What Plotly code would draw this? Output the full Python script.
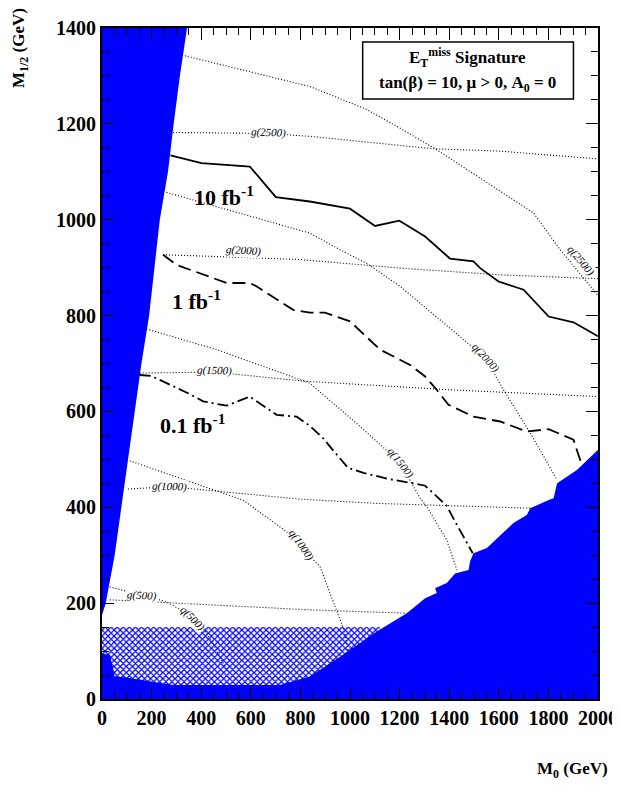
import plotly.graph_objects as go

# ---------------- data (M0, M1/2 in GeV) ----------------
# reach contours
m0_10fb = [276, 401, 596, 701, 838, 1000, 1101, 1199, 1303, 1357, 1403, 1498, 1525, 1599, 1700, 1801, 1901, 2000]
m12_10fb = [1134, 1118, 1111, 1047, 1038, 1023, 987, 998, 965, 941, 919, 913, 899, 871, 854, 798, 786, 757]

m0_1fb = [246, 300, 502, 596, 623, 771, 838, 899, 1000, 1121, 1242, 1303, 1350, 1397, 1498, 1606, 1713, 1801, 1901, 1915, 1935]
m12_1fb = [927, 906, 868, 868, 861, 812, 806, 806, 788, 729, 697, 673, 645, 614, 589, 579, 558, 563, 541, 520, 488]

m0_01fb = [152, 199, 347, 408, 502, 596, 704, 785, 838, 892, 933, 993, 1054, 1155, 1256, 1303, 1343, 1390, 1424, 1458, 1495]
m12_01fb = [676, 674, 638, 621, 612, 631, 593, 589, 570, 544, 518, 482, 472, 459, 450, 445, 426, 403, 370, 338, 304]

# excluded regions
left_m0 = [0, 0, 343, 314, 289, 266, 233, 213, 190, 159, 131, 105, 78, 51, 15, 0]
left_m12 = [175, 1400, 1400, 1300, 1200, 1100, 1000, 900, 800, 700, 600, 500, 400, 300, 200, 175]

bottom_m0 = [0, 0, 31, 44, 51, 98, 287, 717, 838, 960, 1108, 1134, 1229, 1303, 1350, 1343, 1390, 1424,
             1478, 1484, 1498, 1552, 1606, 1659, 1713, 1727, 1801, 1821, 1835, 1915, 2000, 2000, 0]
bottom_m12 = [0, 95, 92, 67, 47, 45, 29, 29, 47, 88, 141, 149, 179, 210, 221, 231, 242, 262,
              269, 287, 304, 315, 342, 367, 384, 398, 415, 419, 450, 478, 520, 0, 0]

hatch_m0 = [0, 0, 1120, 1120, 0]
hatch_m12 = [0, 150, 150, 0, 0]

# gluino iso-mass lines
g_lines = {
    "g(2500)": ([286, 673, 838, 1336, 1606, 1875, 2000], [1182, 1180, 1174, 1148, 1143, 1132, 1127]),
    "g(2000)": ([246, 798, 1202, 1606, 2000], [927, 917, 899, 885, 877]),
    "g(1500)": ([152, 452, 820, 1407, 2000], [680, 682, 663, 645, 631]),
    "g(1000)": ([105, 273, 798, 1114, 1739], [438, 443, 417, 408, 398]),
    "g(500)": ([31, 838, 1229], [207, 186, 179]),
}
# squark iso-mass lines
q_lines = {
    "q(2500)": ([334, 838, 1067, 1202, 1350, 1538, 1740, 1848, 1998], [1342, 1278, 1230, 1191, 1146, 1083, 1014, 937, 843]),
    "q(2000)": ([260, 838, 961, 1067, 1202, 1377, 1545, 1619, 1727, 1835], [1057, 972, 937, 909, 861, 784, 712, 645, 555, 457]),
    "q(1500)": ([179, 462, 838, 933, 1040, 1202, 1283, 1310, 1390, 1431], [772, 729, 659, 617, 569, 493, 419, 401, 332, 269]),
    "q(1000)": ([112, 529, 569, 744, 879, 973, 993], [497, 422, 415, 349, 276, 148, 102]),
    "q(500)": ([31, 161, 260, 367, 421, 448, 502], [234, 217, 203, 171, 137, 116, 61]),
}

# contour labels: text, M0, M1/2, angle
label_text = ["g(2500)", "g(2000)", "g(1500)", "g(1000)", "g(500)",
              "q(2500)", "q(2000)", "q(1500)", "q(1000)", "q(500)"]
label_m0 = [673, 572, 452, 273, 161, 1929, 1545, 1202, 806, 366]
label_m12 = [1181, 935, 685, 443, 217, 914, 712, 493, 321, 169]
label_angle = [2, 3, 2, 2, 3, 50, 48, 52, 55, 45]

lumi_text = ["10 fb<sup>-1</sup>", "1 fb<sup>-1</sup>", "0.1 fb<sup>-1</sup>"]
lumi_m0 = [491, 382, 363]
lumi_m12 = [1050, 833, 574]

x_ticks = list(range(0, 2001, 200))
y_ticks = list(range(0, 1401, 200))

# ---------------- figure ----------------
BLUE = "#0000ff"
SERIF = "Liberation Serif"
OFF = 8  # default page body margin
W, H = 620 - OFF, 785 - OFF
ML, MR, MT, MB = 102 - OFF, 22, 28 - OFF, 86
pw, ph = W - ML - MR, H - MT - MB


def px_to_paper(px, py):
    # page pixel -> paper coordinates
    return (px - OFF - ML) / pw, 1 - (py - OFF - MT) / ph


fig = go.Figure()

fig.add_trace(go.Scatter(x=hatch_m0, y=hatch_m12, mode="lines", fill="toself",
                         fillcolor="white", line=dict(width=0),
                         fillpattern=dict(shape="x", fgcolor=BLUE, fgopacity=1, bgcolor="white",
                                          size=4.3, solidity=0.5),
                         hoverinfo="skip", showlegend=False))
for xs, ys in [(left_m0, left_m12), (bottom_m0, bottom_m12)]:
    fig.add_trace(go.Scatter(x=xs, y=ys, mode="lines", fill="toself", fillcolor=BLUE,
                             line=dict(width=0, color=BLUE), hoverinfo="skip", showlegend=False))

for name, (xs, ys) in list(g_lines.items()) + list(q_lines.items()):
    fig.add_trace(go.Scatter(x=xs, y=ys, mode="lines", line=dict(color="black", width=1.1, dash="1px,2px"),
                             hoverinfo="skip", showlegend=False, name=name))

fig.add_trace(go.Scatter(x=m0_10fb, y=m12_10fb, mode="lines", line=dict(color="black", width=1.8),
                         showlegend=False))
fig.add_trace(go.Scatter(x=m0_1fb, y=m12_1fb, mode="lines", line=dict(color="black", width=1.8, dash="13px,6px"),
                         showlegend=False))
fig.add_trace(go.Scatter(x=m0_01fb, y=m12_01fb, mode="lines",
                         line=dict(color="black", width=1.8, dash="11px,4px,2px,4px"),
                         showlegend=False))

annotations = []
for t, x, y, a in zip(label_text, label_m0, label_m12, label_angle):
    annotations.append(dict(x=x, y=y, xref="x", yref="y", text="<i>" + t + "</i>", showarrow=False,
                            textangle=a, font=dict(family=SERIF, size=11, color="black"),
                            bgcolor="white", borderpad=0))
for t, x, y in zip(lumi_text, lumi_m0, lumi_m12):
    annotations.append(dict(x=x, y=y, xref="x", yref="y", text=t, showarrow=False,
                            font=dict(family=SERIF, size=22, color="black", weight="bold")))

# info box text
annotations.append(dict(x=1472, y=1338, xref="x", yref="y", showarrow=False,
                        text="E<sub>T</sub><sup>miss</sup> Signature",
                        font=dict(family=SERIF, size=17, color="black", weight="bold")))
annotations.append(dict(x=1472, y=1284, xref="x", yref="y", showarrow=False,
                        text="tan(β) = 10, μ > 0, A<sub>0</sub> = 0",
                        font=dict(family=SERIF, size=17, color="black", weight="bold")))
# axis titles
ax, ay = px_to_paper(20, 48)
annotations.append(dict(x=ax, y=ay, xref="paper", yref="paper", showarrow=False,
                        xanchor="center", yanchor="middle",
                        text="M<sub>1/2</sub> (GeV)", textangle=-90,
                        font=dict(family=SERIF, size=17, color="black", weight="bold")))
bx, by = px_to_paper(572, 770)
annotations.append(dict(x=bx, y=by, xref="paper", yref="paper", showarrow=False,
                        xanchor="center", yanchor="middle",
                        text="M<sub>0</sub> (GeV)",
                        font=dict(family=SERIF, size=17, color="black", weight="bold")))

axis_common = dict(ticks="inside", ticklen=12, tickwidth=1, tickcolor="black", mirror="allticks",
                   showline=True, linewidth=2, linecolor="black", showgrid=False, zeroline=False,
                   automargin=False,
                   tickfont=dict(family=SERIF, size=20, color="black", weight="bold"),
                   minor=dict(dtick=50, tick0=0, ticks="inside", ticklen=7, tickwidth=1,
                              tickcolor="black", showgrid=False))

fig.update_layout(
    width=W, height=H,
    margin=dict(l=ML, r=MR, t=MT, b=MB, autoexpand=False),
    paper_bgcolor="white", plot_bgcolor="white",
    annotations=annotations,
    shapes=[dict(type="rect", xref="x", yref="y", x0=1051, x1=1901, y0=1252, y1=1371,
                 line=dict(color="black", width=1.5), fillcolor="white", layer="below")],
    xaxis=dict(range=[0, 2000], tickvals=x_ticks, **axis_common),
    yaxis=dict(range=[0, 1400], tickvals=y_ticks, **axis_common),
)

fig.write_html("out.html")
